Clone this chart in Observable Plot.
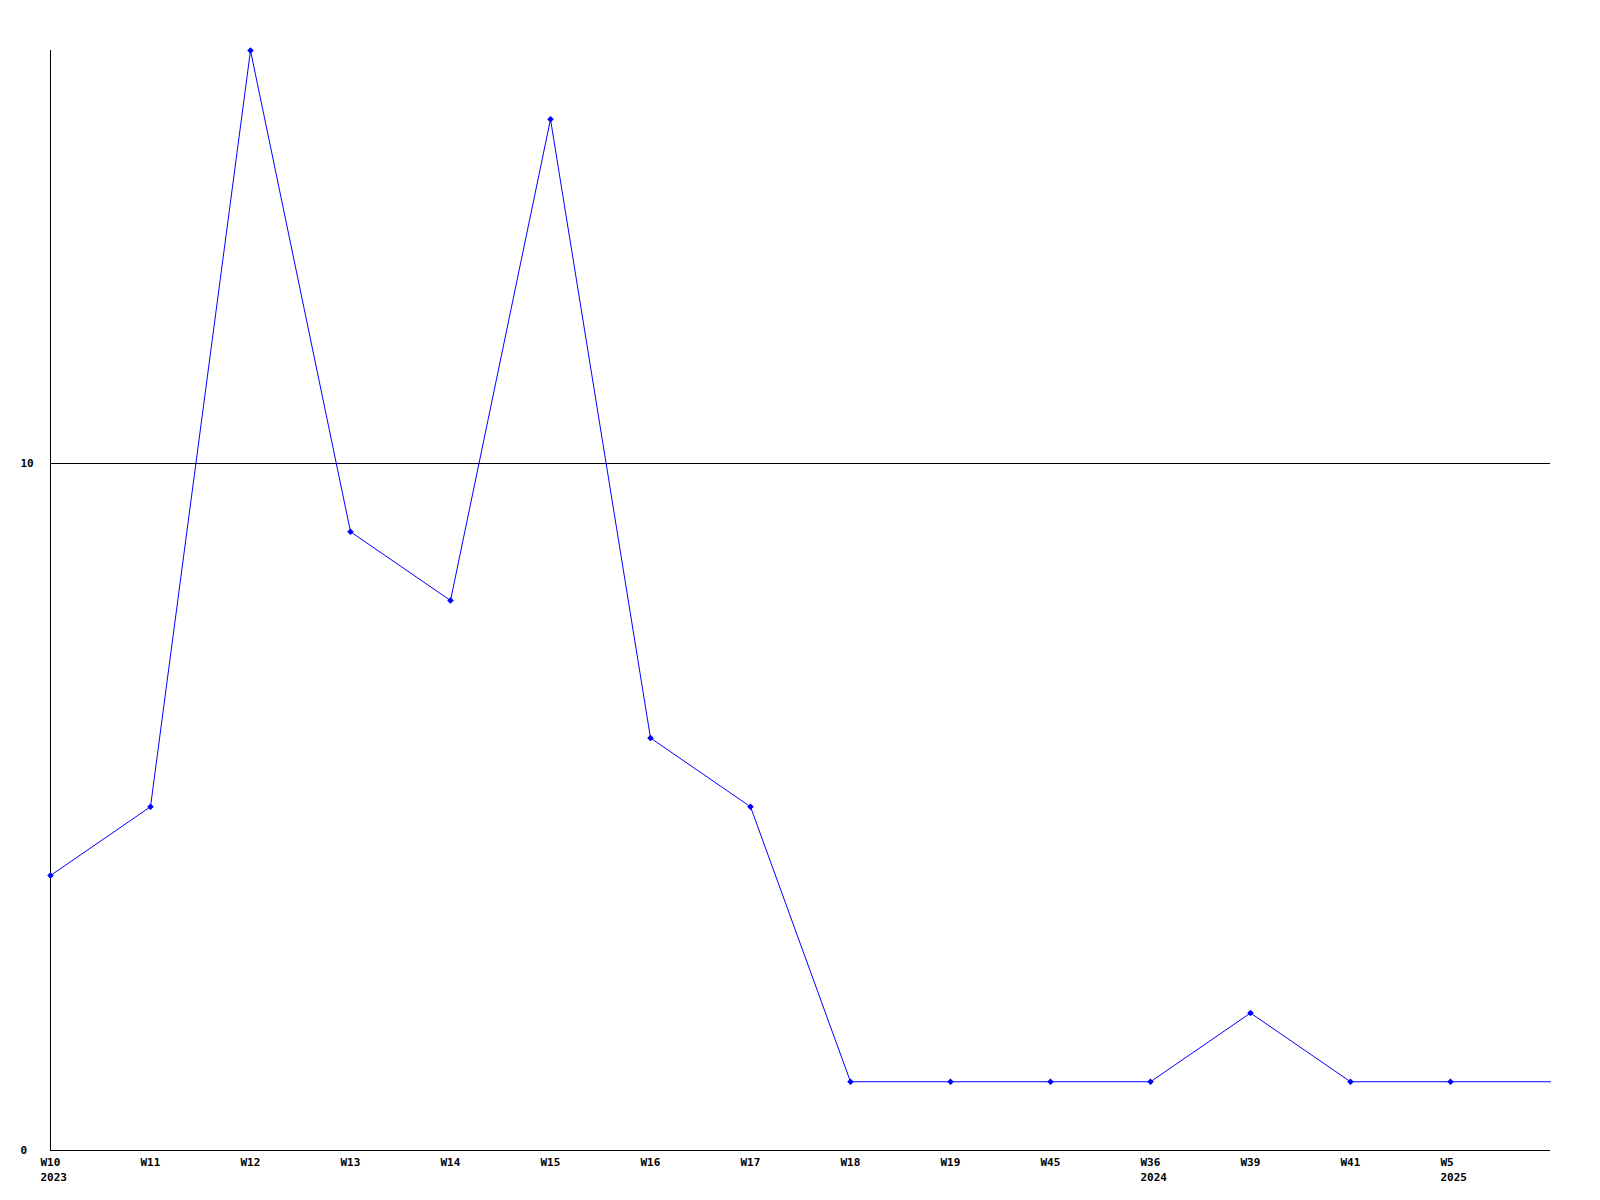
<!DOCTYPE html>
<html>
<head>
<meta charset="utf-8">
<script src="https://cdn.jsdelivr.net/npm/d3@7"></script>
<script src="https://cdn.jsdelivr.net/npm/@observablehq/plot@0.6"></script>
<style>
  html, body { margin: 0; padding: 0; background: #fff; }
</style>
</head>
<body>
<div id="chart"></div>
<script>
// Week labels (x categories), year labels under the first week of each year
const weeks = ["W10","W11","W12","W13","W14","W15","W16","W17","W18","W19","W45","W36","W39","W41","W5"];
const years = ["2023","","","","","","","","","","","2024","","","2025"];
// Counts per week
const counts = [4,5,16,9,8,15,6,5,1,1,1,1,2,1,1];
// Trailing (unlabelled, current) period value, line only
const trailingCount = 1;
// Y tick labels
const yTicks = [0, 10];

const points = weeks.map((w, i) => ({i, week: w, year: years[i], value: counts[i]}));
const linePoints = [...points, {i: points.length, week: "", year: "", value: trailingCount}];

const font = {fontFamily: "'DejaVu Sans Mono', monospace", fontWeight: "bold", fontSize: 11};

const chart = Plot.plot({
  width: 1600,
  height: 1200,
  marginLeft: 50,
  marginRight: 50,
  marginTop: 50,
  marginBottom: 50,
  style: {background: "#fff", ...font, color: "black"},
  x: {type: "linear", domain: [0, weeks.length], axis: null},
  y: {domain: [0, 16], axis: null},
  marks: [
    Plot.ruleY([10], {stroke: "black", strokeWidth: 1, shapeRendering: "crispEdges"}),
    Plot.ruleY([0], {stroke: "black", strokeWidth: 1, shapeRendering: "crispEdges"}),
    Plot.ruleX([0], {stroke: "black", strokeWidth: 1, shapeRendering: "crispEdges"}),
    Plot.line(linePoints, {x: "i", y: "value", stroke: "#0000ff", strokeWidth: 1, curve: "linear"}),
    Plot.dot(points, {x: "i", y: "value", symbol: "diamond2", r: 2.2, stroke: "#0000ff", strokeWidth: 1.2, fill: "#0000ff"}),
    Plot.text(yTicks, {y: d => d, text: d => String(d), frameAnchor: "left", textAnchor: "start", dx: -30, fill: "black"}),
    Plot.text(points, {x: "i", text: "week", frameAnchor: "bottom", textAnchor: "start", dx: -10, dy: 15, fill: "black"}),
    Plot.text(points.filter(d => d.year), {x: "i", text: "year", frameAnchor: "bottom", textAnchor: "start", dx: -10, dy: 30, fill: "black"})
  ]
});
document.getElementById("chart").appendChild(chart);
</script>
</body>
</html>
